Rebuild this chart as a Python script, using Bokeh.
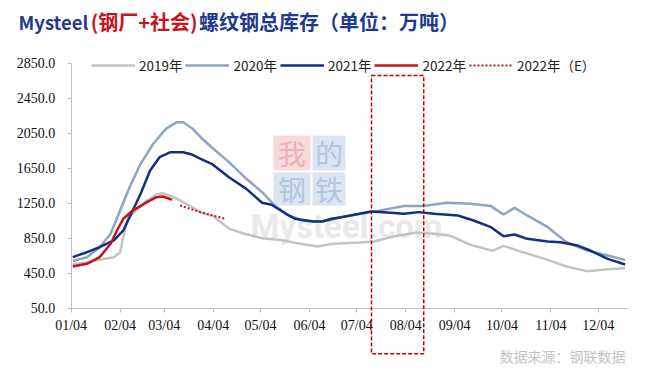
from bokeh.plotting import figure
from bokeh.models import (Range1d, FixedTicker, NumeralTickFormatter, Legend, LegendItem,
                          Label, BoxAnnotation)
from bokeh.embed import file_html
from bokeh.resources import INLINE

# ---- data (x = days since 01/04) ----
month_days = [0, 31, 59, 90, 120, 151, 181, 212, 243, 273, 304, 334]
month_labels = ["01/04", "02/04", "03/04", "04/04", "05/04", "06/04",
                "07/04", "08/04", "09/04", "10/04", "11/04", "12/04"]
y_ticks = [50, 450, 850, 1250, 1650, 2050, 2450, 2850]

days_2019 = [1, 10, 18, 27, 31, 33, 36, 41, 48, 54, 58, 65, 73, 82, 90, 100, 110, 121, 133, 145,
             156, 166, 183, 192, 204, 219, 230, 240, 253, 259, 267, 274, 285, 302, 314, 327, 340, 351]
inv_2019 = [549, 575, 603, 633, 690, 861, 1090, 1166, 1281, 1349, 1364, 1319, 1243, 1147, 1100, 960,
            900, 850, 830, 786, 755, 786, 801, 812, 869, 915, 900, 880, 774, 747, 705, 762, 697, 602,
            526, 473, 496, 507]

days_2020 = [1, 10, 18, 25, 31, 37, 44, 52, 60, 67, 71, 77, 82, 89, 100, 111, 121, 129, 138, 146,
             157, 163, 171, 190, 211, 223, 238, 253, 266, 274, 281, 289, 302, 314, 327, 340, 351]
inv_2020 = [590, 633, 747, 900, 1166, 1433, 1700, 1929, 2100, 2176, 2176, 2100, 2004, 1890, 1719,
            1529, 1376, 1224, 1110, 1052, 1041, 1052, 1090, 1148, 1217, 1217, 1255, 1243, 1217, 1121,
            1197, 1110, 976, 804, 709, 652, 602]

days_2021 = [1, 10, 18, 27, 33, 37, 44, 50, 56, 63, 71, 77, 82, 89, 100, 111, 121, 127, 136, 142,
             153, 159, 165, 171, 190, 198, 211, 220, 230, 245, 255, 266, 274, 281, 289, 302, 310,
             321, 329, 340, 351]
inv_2021 = [633, 690, 747, 824, 938, 1090, 1357, 1624, 1776, 1833, 1833, 1803, 1757, 1700, 1547,
            1414, 1255, 1232, 1129, 1072, 1041, 1041, 1072, 1090, 1155, 1147, 1129, 1148, 1129, 1110,
            1052, 976, 872, 892, 843, 812, 804, 766, 709, 614, 549]

days_2022 = [1, 10, 18, 25, 29, 33, 39, 48, 54, 58, 64]
inv_2022 = [526, 557, 633, 786, 938, 1072, 1166, 1262, 1319, 1327, 1289]

days_2022e = [69, 82, 98]
inv_2022e = [1224, 1147, 1071]

series_names = ["2019年", "2020年", "2021年", "2022年", "2022年（E）"]

# ---- figure: frame covers the whole canvas; axes drawn at fixed locations ----
X0, X1 = 0, 352.3          # data extent of the chart area
Y0, Y1 = 50, 2850
p = figure(width=652, height=366, output_backend="svg", toolbar_location=None,
           x_range=Range1d(-44.80, 368.38), y_range=Range1d(-616.3, 3566.6),
           min_border_left=0, min_border_right=0, min_border_top=0, min_border_bottom=0)
p.outline_line_color = None
p.xgrid.visible = False
p.ygrid.visible = False
p.background_fill_color = "white"

NAVY = "#1F3A8C"
RED = "#C8141E"
SERIF = "Liberation Serif, DejaVu Serif, serif"

# watermark
wm_boxes = [(128.2, 151.6, 2024, 1624, "#F6D9DC", "#EBB3BA", "我"),
            (152.9, 173.8, 2024, 1624, "#DCE4F0", "#B5C6E0", "的"),
            (128.2, 151.6, 1601, 1224, "#DCE4F0", "#B5C6E0", "钢"),
            (152.9, 173.8, 1601, 1224, "#DCE4F0", "#B5C6E0", "铁")]
for l, r, t, b, bg, fg, ch in wm_boxes:
    p.add_layout(BoxAnnotation(left=l, right=r, top=t, bottom=b, fill_color=bg, fill_alpha=1,
                               line_color=None, level="underlay"))
    p.add_layout(Label(x=(l + r) / 2, y=(t + b) / 2, text=ch, text_align="center",
                       text_baseline="middle", text_font="Noto Sans CJK SC", text_font_size="28px",
                       text_color=fg, level="underlay"))
p.add_layout(Label(x=113.6, y=983, text="Mysteel.com", text_font="Roboto", text_font_style="bold",
                   text_font_size="33px", text_color="#E9E9E9", text_baseline="alphabetic",
                   level="underlay"))

r19 = p.line(days_2019, inv_2019, line_color="#C3C3C3", line_width=2.5)
r20 = p.line(days_2020, inv_2020, line_color="#8FA3C7", line_width=2.5)
r21 = p.line(days_2021, inv_2021, line_color="#13307A", line_width=2.5)
r22 = p.line(days_2022, inv_2022, line_color="#C0161E", line_width=2.5)
r22e = p.line(days_2022e, inv_2022e, line_color="#C0161E", line_width=2, line_dash="2 2")

legend = Legend(items=[LegendItem(label=n, renderers=[r]) for n, r in
                       zip(series_names, [r19, r20, r21, r22, r22e])],
                orientation="horizontal", location=(91, 291), glyph_width=44, glyph_height=12,
                label_standoff=4, spacing=3, padding=0, margin=0, border_line_color=None,
                background_fill_alpha=0, label_text_font="Noto Sans CJK SC",
                label_text_font_size="13.5px", label_text_color="#222222")
p.add_layout(legend)

# axes
xa, ya = p.xaxis[0], p.yaxis[0]
for ax in (xa, ya):
    ax.axis_line_color = "#BFBFBF"
    ax.major_tick_line_color = "#BFBFBF"
    ax.minor_tick_line_color = None
    ax.major_tick_in = 0
    ax.major_tick_out = 4
    ax.major_label_text_font = SERIF
    ax.major_label_text_font_size = "14px"
    ax.major_label_text_color = "#111111"

xa.fixed_location = Y0
xa.bounds = (X0, X1)
xa.ticker = FixedTicker(ticks=month_days)
xa.major_label_overrides = {d: s for d, s in zip(month_days, month_labels)}
xa.major_label_standoff = 6
ya.fixed_location = X0
ya.bounds = (Y0, Y1)
ya.ticker = FixedTicker(ticks=y_ticks)
ya.formatter = NumeralTickFormatter(format="0.0")
ya.major_label_standoff = 12

# highlight box (dashed red), reaching below the axis
p.add_layout(BoxAnnotation(left=190.3, right=223.4, top=2709, bottom=-471,
                           fill_alpha=0, line_color="#C00000", line_alpha=1, line_width=1.5,
                           line_dash="4 2", level="overlay"))

# title
ty = 3320.9
p.add_layout(Label(x=-33.4, y=ty, text="Mysteel", text_font="Noto Sans CJK SC",
                   text_font_style="bold", text_font_size="18.5px", text_color=NAVY,
                   text_baseline="middle"))
p.add_layout(Label(x=12.4, y=ty, text="(钢厂+社会)", text_font="Noto Sans CJK SC",
                   text_font_style="bold", text_font_size="20px", text_color=RED,
                   text_baseline="middle"))
p.add_layout(Label(x=81.0, y=ty, text="螺纹钢总库存（单位：万吨）", text_font="Noto Sans CJK SC",
                   text_font_style="bold", text_font_size="20px", text_color=NAVY,
                   text_baseline="middle"))

# source
p.add_layout(Label(x=351.3, y=-490.6, text="数据来源：钢联数据", text_font="Noto Sans CJK SC",
                   text_font_size="14px", text_color="#C4C4C4", text_align="right",
                   text_baseline="middle"))

open("out.html", "w").write(file_html(p, INLINE))
